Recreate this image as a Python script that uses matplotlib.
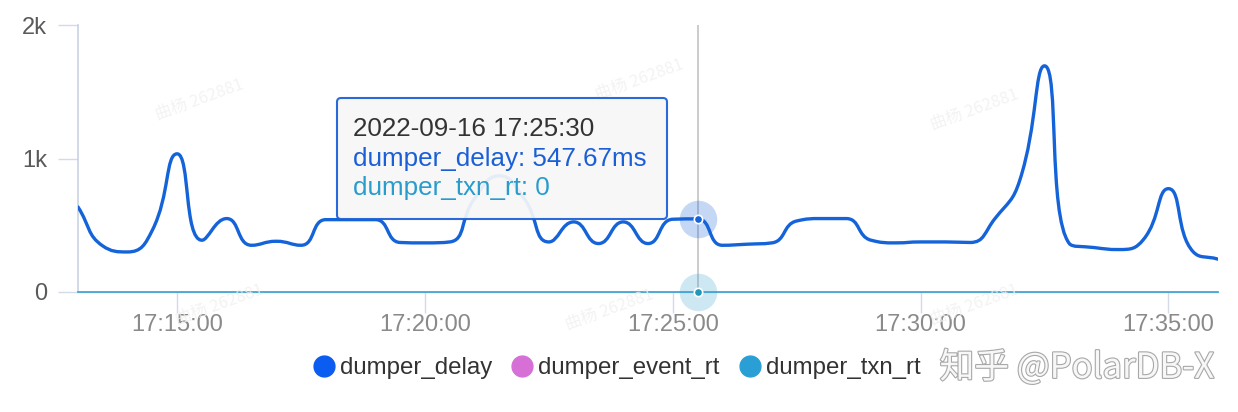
import numpy as np
import matplotlib
matplotlib.use("Agg")
import matplotlib.pyplot as plt
import matplotlib.dates as mdates
from matplotlib.path import Path
from matplotlib.patches import PathPatch, FancyBboxPatch
from matplotlib.lines import Line2D
from matplotlib.transforms import IdentityTransform
import matplotlib.patheffects as pe
from datetime import datetime, timedelta

plt.rcParams['font.family'] = ['Liberation Sans', 'Noto Sans CJK SC', 'DejaVu Sans']

# ---------------- data ----------------
start_time = datetime(2022, 9, 16, 17, 13, 0)
end_time = datetime(2022, 9, 16, 17, 36, 0)
step_seconds = 30
dumper_delay = [637, 345, 300, 463, 1035, 388, 550, 350, 380, 350,
                542, 542, 542, 371, 368, 375, 700, 870, 700, 375,
                525, 363, 525, 363, 545, 547.67, 350, 358, 368, 532,
                550, 550, 388, 368, 375, 375, 371, 550, 836, 1694,
                363, 333, 318, 395, 774, 301, 246]
dumper_txn_rt = [0] * len(dumper_delay)
series_names = ["dumper_delay", "dumper_event_rt", "dumper_txn_rt"]
series_colors = ["#0b5cf0", "#d670d6", "#2a9fd6"]
line_color = "#1463d9"
txn_color = "#3aa0d2"
hover_index = 25
x_tick_labels = ["17:15:00", "17:20:00", "17:25:00", "17:30:00", "17:35:00"]
y_ticks = [0, 1000, 2000]
y_tick_labels = ["0", "1k", "2k"]

times = [start_time + timedelta(seconds=step_seconds * i) for i in range(len(dumper_delay))]
xnum = mdates.date2num(times)

W, H = 1238, 412
fig = plt.figure(figsize=(W / 100, H / 100), dpi=100)
ax = fig.add_axes([78 / W, (H - 292) / H, (1218 - 78) / W, (292 - 25) / H])
ax.set_xlim(mdates.date2num(start_time), mdates.date2num(end_time))
ax.set_ylim(0, 2000)

# ticks
tick_times = [datetime.strptime("2022-09-16 " + t, "%Y-%m-%d %H:%M:%S") for t in x_tick_labels]
ax.set_xticks(mdates.date2num(tick_times))
ax.set_xticklabels(x_tick_labels)
ax.set_yticks(y_ticks)
ax.set_yticklabels(y_tick_labels)
ax.tick_params(axis='x', length=15, width=1.0, color='#d5dbe6', pad=1,
               labelsize=17, labelcolor='#8a8a8a')
ax.tick_params(axis='y', length=14.4, width=1.0, color='#d5dbe6', pad=8,
               labelsize=17, labelcolor='#5a5a5a')
for s in ['top', 'right']:
    ax.spines[s].set_visible(False)
ax.spines['left'].set_color('#c9d2e3')
ax.spines['left'].set_linewidth(1.2)
ax.spines['bottom'].set_color('#c9d2e3')
ax.spines['bottom'].set_linewidth(1.0)


# ---------------- smoothed line (echarts-like bezier) ----------------
def smooth_vertices(disp, smooth=0.5):
    n = len(disp)
    cb = [None] * n
    ca = [None] * n
    for i in range(n):
        p = disp[i]
        prev = disp[i - 1] if i > 0 else p
        nxt = disp[i + 1] if i < n - 1 else p
        l0 = np.hypot(*(p - prev))
        l1 = np.hypot(*(nxt - p))
        if i == 0 or i == n - 1:
            v = (nxt - prev) * smooth
            cb[i] = p.copy()
            ca[i] = p + v if i == 0 else p.copy()
            if i == n - 1:
                cb[i] = p - v
            continue
        v = (nxt - prev) * smooth
        r = l1 / (l0 + l1)
        c1 = p + v * r
        c1 = np.minimum(c1, np.maximum(nxt, p))
        c1 = np.maximum(c1, np.minimum(nxt, p))
        v1 = c1 - p
        c0 = p - v1 * l0 / l1
        c0 = np.minimum(c0, np.maximum(prev, p))
        c0 = np.maximum(c0, np.minimum(prev, p))
        v0 = p - c0
        c1 = p + v0 * l1 / l0
        cb[i] = c0
        ca[i] = c1
    verts = [disp[0]]
    codes = [Path.MOVETO]
    for i in range(n - 1):
        verts += [ca[i], cb[i + 1], disp[i + 1]]
        codes += [Path.CURVE4] * 3
    return np.array(verts), codes


disp = ax.transData.transform(np.column_stack([xnum, dumper_delay]))
verts_disp, codes = smooth_vertices(disp)
verts_data = ax.transData.inverted().transform(verts_disp)
patch = PathPatch(Path(verts_data, codes), facecolor='none', edgecolor=line_color,
                  lw=2.4, zorder=4, capstyle='round', joinstyle='round')
ax.add_patch(patch)

# txn_rt line at zero
ax.plot(xnum, dumper_txn_rt, color=txn_color, lw=1.2, zorder=3, clip_on=False)

# hover line & markers
hx = xnum[hover_index]
ax.axvline(hx, color='#c4c4c4', lw=1.2, zorder=2)
ax.plot([hx], [dumper_delay[hover_index]], 'o', ms=27, color=line_color, alpha=0.25,
        mec='none', zorder=5, clip_on=False)
ax.plot([hx], [dumper_delay[hover_index]], 'o', ms=6, color=line_color, mec='white',
        mew=1.2, zorder=6, clip_on=False)
ax.plot([hx], [dumper_txn_rt[hover_index]], 'o', ms=27, color=txn_color, alpha=0.25,
        mec='none', zorder=5, clip_on=False)
ax.plot([hx], [dumper_txn_rt[hover_index]], 'o', ms=6, color='#1f97b8', mec='white',
        mew=1.2, zorder=6, clip_on=False)

# tooltip
idt = IdentityTransform()
bx0, by0, bx1, by1 = 337, 98, 667, 219
box = FancyBboxPatch((bx0, H - by1), bx1 - bx0, by1 - by0,
                     boxstyle="round,pad=0,rounding_size=4",
                     facecolor='#f7f7f8', edgecolor='#1a5fd6', lw=1.5, alpha=0.93,
                     transform=idt, zorder=10)
fig.add_artist(box)
hover_time = times[hover_index].strftime("%Y-%m-%d %H:%M:%S")
tip_lines = [
    (hover_time, '#333333', 129),
    (f"{series_names[0]}: {dumper_delay[hover_index]:.2f}ms", '#1a5fd6', 159),
    (f"{series_names[2]}: {dumper_txn_rt[hover_index]}", '#2a9ccc', 188),
]
for txt, col, yy in tip_lines:
    fig.text(353, H - yy, txt, transform=idt, fontsize=18.7, color=col,
             va='center', ha='left', zorder=11)

# legend
handles = [Line2D([], [], marker='o', linestyle='none', color=c, markersize=15)
           for c in series_colors]
leg = ax.legend(handles, series_names, loc='center left', ncol=3, frameon=False,
                bbox_to_anchor=(313 / W, 1 - 368 / H), bbox_transform=fig.transFigure,
                fontsize=17.3, handlelength=0.9, handletextpad=0.22, columnspacing=0.8,
                borderpad=0, borderaxespad=0)
for t in leg.get_texts():
    t.set_color('#333333')

# watermarks
fig.text(1077, H - 368, "知乎 @PolarDB-X", transform=idt, fontsize=25,
         family=['Noto Sans CJK SC', 'DejaVu Sans'], color='#f7f7f7', ha='center', va='center',
         zorder=12, path_effects=[pe.withStroke(linewidth=1.6, foreground='#a8a8a8')])
for (wx, wy) in [(200, 100), (640, 80), (975, 110), (220, 305), (610, 310), (975, 305)]:
    fig.text(wx, H - wy, "曲杨 262881", transform=idt, fontsize=12, rotation=20,
             family=['Noto Sans CJK SC', 'DejaVu Sans'], color='#f0f0f0',
             ha='center', va='center', zorder=1, alpha=0.8)

fig.savefig("out.png", dpi=100)
